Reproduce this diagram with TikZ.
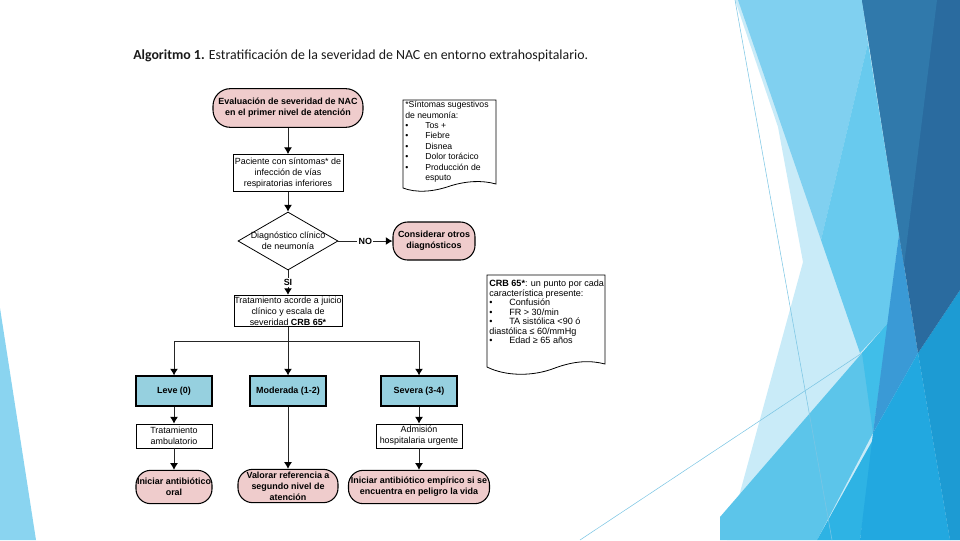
\documentclass[tikz,border=0pt]{standalone}
\usepackage{fontspec}
\setmainfont{Liberation Sans}
\newfontfamily\titlefont{Carlito}
\usetikzlibrary{shapes.geometric,arrows.meta,calc}
\definecolor{pinkfill}{HTML}{EFCCCC}
\definecolor{bluefill}{HTML}{96D0DF}
\definecolor{cpale}{HTML}{C9EBF8}
\definecolor{clc}{HTML}{80D0F0}
\definecolor{csat}{HTML}{68CAEE}
\definecolor{clow}{HTML}{5CC5EA}
\definecolor{cmidc}{HTML}{40BEE9}
\definecolor{cbra}{HTML}{2EB3E4}
\definecolor{cmedb}{HTML}{3A9AD6}
\definecolor{cbb}{HTML}{22A8E0}
\definecolor{cstrip}{HTML}{1D9BD3}
\definecolor{cdark}{HTML}{2A6B9F}
\definecolor{cmiddark}{HTML}{3079AB}
\definecolor{cleft}{HTML}{8AD4F0}
\definecolor{cthin}{HTML}{7CC6E4}
\newcommand\fsz{\fontsize{6.7}{8.1}\selectfont}
\newcommand\fnoteA{\fontsize{6.5}{7.8}\selectfont}
\newcommand\fnoteB{\fontsize{6.8}{7.1}\selectfont}
\newcommand\bul{\makebox[15pt][l]{\textbullet}}
\begin{document}
\begin{tikzpicture}[x=0.75pt,y=-0.75pt,
  term/.style={draw=black, line width=0.8pt, fill=pinkfill, rounded corners=11pt, align=center, font=\fsz\bfseries, inner sep=0pt},
  proc/.style={draw=black, line width=0.6pt, fill=white, align=center, font=\fsz, inner sep=0pt},
  sevbox/.style={draw=black, line width=0.8pt, fill=bluefill, align=center, font=\fsz\bfseries, inner sep=0pt, minimum width=57pt, minimum height=22.5pt},
  dia/.style={draw=black, line width=0.6pt, fill=white, diamond, inner sep=0pt},
  ln/.style={draw=black!85, line width=0.75pt},
  arr/.style={draw=black!85, line width=0.75pt, -{Latex[length=5pt,width=6pt,color=black]}},
  lbl/.style={fill=white, inner sep=1pt, font=\fsz\bfseries},
  docs/.style={draw=black, line width=0.6pt, fill=white},
  thinl/.style={draw=cthin, line width=0.4pt}]
\useasboundingbox (0,0) rectangle (960,540);
% background decoration
\fill[cleft] (0,308) -- (36,540) -- (0,540) -- cycle;
\fill[cpale] (735,0) -- (960,0) -- (960,540) -- (727,540) -- (803,262) -- (778,127) -- cycle;
\fill[clc] (738,0) -- (862,0) -- (868,43) -- (821,240) -- cycle;
\fill[csat] (868,43) -- (821,240) -- (860,353) -- (888,323) -- (899,234) -- cycle;
\fill[clow] (720,517) -- (862,353) -- (888,323) -- (873,433) -- (817,540) -- (720,540) -- cycle;
\fill[cmidc] (862,353) -- (888,323) -- (873,433) -- cycle;
\fill[cbra] (817,540) -- (875,436) -- (860,540) -- cycle;
\fill[cmedb] (899,234) -- (918,353) -- (873,433) -- cycle;
\fill[cbb] (918,353) -- (950,540) -- (860,540) -- (873,433) -- cycle;
\fill[cstrip] (918,353) -- (960,290) -- (960,540) -- (950,540) -- cycle;
\fill[cdark] (862,0) -- (960,0) -- (960,290) -- (918,353) -- cycle;
\fill[cmiddark] (862,0) -- (937,0) -- (904,265) -- cycle;
\draw[thinl] (735,0) -- (832,540);
\draw[thinl] (580,540) -- (862,353);
% title
\node[anchor=west, inner sep=0pt, text=black!90, font=\titlefont\fontsize{10.4}{12}\selectfont] (title) at (133,56) {\textbf{Algoritmo 1.} Estratificación de la severidad de NAC en entorno extrahospitalario.};
% flowchart
\node[term, rounded corners=13pt, minimum width=112.5pt, minimum height=29pt] (start) at (288,108) {Evaluación de severidad de NAC\\en el primer nivel de atención};
\node[proc, minimum width=82.5pt, minimum height=27.75pt] (sint) at (288,173) {Paciente con síntomas* de\\infección de vías\\respiratorias inferiores};
\node[dia, minimum width=75pt, minimum height=43.5pt, label={[align=center, font=\fsz]center:Diagnóstico clínico\\de neumonía}] (diag) at (288,241) {};
\node[term, minimum width=61.5pt, minimum height=28.5pt] (otros) at (434,241) {Considerar otros\\diagnósticos};
\node[proc, minimum width=81pt, minimum height=23.5pt] (trat) at (288,311) {Tratamiento acorde a juicio\\clínico y escala de\\severidad \textbf{CRB 65*}};
\coordinate (split) at (288,341);
\node[sevbox] (leve) at (174,391) {Leve (0)};
\node[sevbox] (mod) at (288,391) {Moderada (1-2)};
\node[sevbox] (sev) at (419,391) {Severa (3-4)};
\node[proc, minimum width=57pt, minimum height=18pt] (amb) at (174,436) {Tratamiento\\ambulatorio};
\node[proc, minimum width=64.5pt, minimum height=18pt] (adm) at (419,436) {Admisión\\hospitalaria urgente};
\node[term, minimum width=57pt, minimum height=25pt] (oral) at (174,487) {Iniciar antibiótico\\oral};
\node[term, minimum width=75pt, minimum height=25pt] (valorar) at (288,486) {Valorar referencia a\\segundo nivel de\\atención};
\node[term, minimum width=105.75pt, minimum height=25pt] (emp) at (419,487) {Iniciar antibiótico empírico si se\\encuentra en peligro la vida};
% connectors
\draw[arr] (start) -- (sint);
\draw[arr] (sint) -- (diag);
\draw[arr] (diag) -- node[lbl] {NO} (otros);
\draw[arr] (diag) -- node[lbl] {SI} (trat);
\draw[ln] (trat) -- (split);
\draw[arr] (split) -| (leve);
\draw[arr] (split) -| (sev);
\draw[arr] (split) -- (mod);
\draw[arr] (leve) -- (amb);
\draw[arr] (amb) -- (oral);
\draw[arr] (mod) -- (valorar);
\draw[arr] (sev) -- (adm);
\draw[arr] (adm) -- (emp);
% notes
\draw[docs] (403,100) -- (496,100) -- (496,184) .. controls (482,180) and (466,181) .. (450,186) .. controls (433,192) and (416,193) .. (403,188) -- cycle;
\node[anchor=north west, align=left, font=\fnoteA, inner sep=0pt] (n1) at (405,101) {*Síntomas sugestivos\\de neumonía:\\\bul Tos +\\\bul Fiebre\\\bul Disnea\\\bul Dolor torácico\\\bul Producción de\\\hspace*{15pt}esputo};
\draw[docs] (487,275) -- (605,275) -- (605,364) .. controls (590,360) and (574,361) .. (555,368) .. controls (532,377) and (505,376) .. (487,367) -- cycle;
\node[anchor=north west, align=left, font=\fnoteB, inner sep=0pt] (n2) at (489,280) {\textbf{CRB 65*}: un punto por cada\\característica presente:\\\bul Confusión\\\bul FR > 30/min\\\bul TA sistólica <90 ó\\diastólica ≤ 60/mmHg\\\bul Edad ≥ 65 años};
\end{tikzpicture}
\end{document}
